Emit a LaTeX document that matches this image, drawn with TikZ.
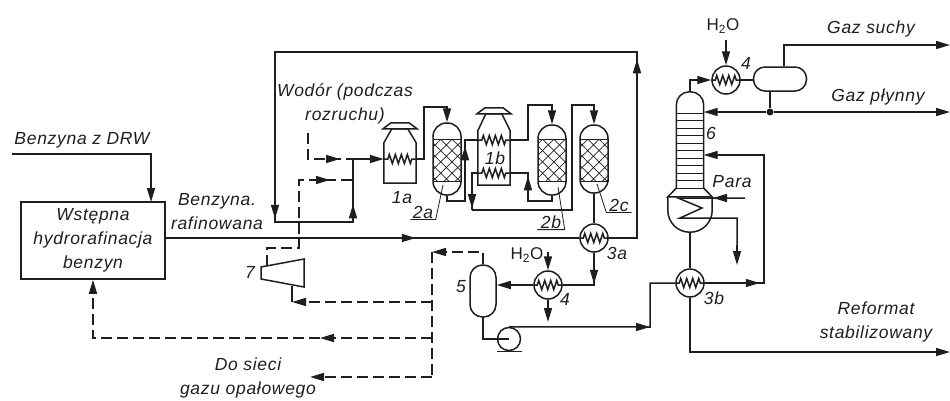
\documentclass[tikz,border=0pt]{standalone}
\usepackage{fontspec}
\setmainfont{Liberation Sans}
\newfontfamily\lettering[LetterSpace=4]{Liberation Sans}
\usetikzlibrary{arrows.meta,calc,decorations.markings,decorations.pathmorphing,patterns.meta}
\definecolor{ink}{RGB}{30,30,30}
\tikzset{
  pipe/.style  ={draw=ink, line width=1.5pt},
  ar/.style    ={pipe, -{Triangle[length=14pt,width=8pt]}},
  gas/.style   ={pipe, dash pattern=on 11pt off 5pt},
  gasar/.style ={gas, -{Triangle[length=14pt,width=8pt]}},
  tip at/.style={postaction={decorate,decoration={markings,
                 mark=at position #1 with {\arrow{Triangle[length=14pt,width=8pt]}}}}},
  vessel/.style={rectangle, draw=ink, line width=1.5pt, inner sep=0pt},
  hx/.style    ={circle, draw=ink, line width=1.5pt, inner sep=0pt, minimum size=28pt},
  coilbox/.style={inner sep=0pt, minimum height=0pt, minimum width=32pt},
  coil/.style  ={draw=ink, line width=1.5pt, decorate,
                 decoration={zigzag,segment length=6pt,amplitude=4.5pt,pre length=4pt,post length=4pt}},
  hatch/.style ={rectangle, inner sep=0pt, draw=ink, line width=.8pt, minimum width=28pt, minimum height=42pt,
                 pattern={Lines[angle=45,distance=8pt,line width=.7pt,yshift=1pt]}, pattern color=ink,
                 postaction={pattern={Lines[angle=-45,distance=8pt,line width=.7pt]}, pattern color=ink}},
  txt/.style   ={font=\lettering\itshape\fontsize{17.5}{24}\selectfont, text=ink, inner sep=1pt, align=center},
  wat/.style   ={font=\fontsize{17}{24}\selectfont, text=ink, inner sep=1pt},
  lead/.style  ={draw=ink, line width=.8pt},
  dot/.style   ={circle, fill=ink, inner sep=0pt, minimum size=7pt}
}
\newcommand{\furnace}[2]{%
  \draw[pipe] (#1.south west) -- (#1.north west) -- ++(8,-#2) -- ++(16,0) -- (#1.north east)
    -- (#1.south east) -- cycle;
  \draw[pipe] ([shift={(-17,-#2)}]#1.north) -- ++(8,-6) -- ++(18,0) -- ++(8,6) -- cycle;}
\begin{document}
\begin{tikzpicture}[x=1pt,y=-1pt]
\useasboundingbox (0,0) rectangle (950,400);
\node[vessel, minimum width=144pt, minimum height=77pt, txt] (pre) at (93,240.5) {Wstępna\\hydrorafinacja\\benzyn};
\node[inner sep=0pt, minimum width=32pt, minimum height=40pt] (f1a) at (400,163) {};
\node[inner sep=0pt, minimum width=32pt, minimum height=54pt] (f1b) at (494,158) {};
\node[vessel, hatch] (h2a) at (447,160) {};
\node[vessel, hatch] (h2b) at (552,160) {};
\node[vessel, hatch] (h2c) at (594,160) {};
\node[vessel, rounded corners=13.5pt, minimum width=28pt, minimum height=72pt] (r2a) at (447,159) {};
\node[vessel, rounded corners=13.5pt, minimum width=28pt, minimum height=70pt] (r2b) at (552,160) {};
\node[vessel, rounded corners=13.5pt, minimum width=28pt, minimum height=68pt] (r2c) at (594,159) {};
\node[coilbox] (c1a) at (400,159) {};
\node[coilbox] (c1bu) at (494,140) {};
\node[coilbox] (c1bl) at (494,173) {};
\node[hx] (hx3a) at (594,238) {};
\node[hx] (hx3b) at (690,283) {};
\node[hx] (hx4a) at (726,80) {};
\node[hx] (hx4b) at (548,285) {};
\node[vessel, rounded corners=12.5pt, minimum width=26pt, minimum height=52pt] (v5) at (483,291) {};
\node[vessel, rounded corners=11.5pt, minimum width=53pt, minimum height=24pt] (drum) at (780,79) {};
\node[circle, draw=ink, line width=1.5pt, inner sep=0pt, minimum size=23pt] (pump) at (509,339) {};
\node[inner sep=0pt, minimum width=27pt, minimum height=96pt] (col) at (690,140) {};
\node[inner sep=0pt, minimum width=44pt, minimum height=35pt] (reb) at (690,214.5) {};
\node[dot] (tee) at (770,112) {};
\furnace{f1a}{14}
\furnace{f1b}{17}
\foreach \c in {hx3a,hx3b,hx4a,hx4b,c1a,c1bu,c1bl}
  \draw[coil] (\c.west) -- (\c.east);
\draw[pipe, rounded corners=13pt] (col.south west) -- (col.north west) -- (col.north east) -- (col.south east);
\foreach \y in {113,120.5,...,188}
  \draw[pipe, line width=.8pt] (col.west |- 0,\y) -- (col.east |- 0,\y);
\draw[pipe] (col.south west) -- (reb.north west) -- (reb.north east) -- (col.south east);
\draw[pipe, rounded corners=21.9pt] (reb.north west) -- (reb.south west) -- (reb.south east) -- (reb.north east);
\draw[pipe] (261,267) -- (304,259) -- (304,287) -- (261,279) -- cycle;
\draw[pipe] ([xshift=-12pt]pump.south) -- ([xshift=13pt]pump.south);
\coordinate (feed) at (12,154);
\coordinate (prein) at (151,202);
\coordinate (mix) at (353,159);
\coordinate (a1) at (424,107);
\coordinate (a2) at (465,201);
\coordinate (a3) at (528,105);
\coordinate (a4) at (528,201);
\coordinate (a5) at (472,210);
\coordinate (a6) at (572,105);
\coordinate (a7) at (650,327);
\coordinate (a8) at (764,283);
\coordinate (rc1) at (637,238);
\coordinate (rc2) at (637,52);
\coordinate (rc3) at (275,52);
\coordinate (rc4) at (275,222);
\coordinate (rc5) at (353,222);
\coordinate (h2in) at (308,133);
\coordinate (t1) at (267,266);
\coordinate (t2) at (299,248);
\coordinate (t3) at (299,180);
\coordinate (t4) at (292,286);
\coordinate (t5) at (292,302);
\coordinate (g2) at (432,252);
\coordinate (g3) at (432,302);
\coordinate (g4) at (432,338);
\coordinate (g5) at (432,377);
\coordinate (g6) at (310,377);
\coordinate (g7) at (93,338);
\coordinate (wat1) at (726,40);
\coordinate (wat2) at (548,252);
\coordinate (wat3) at (548,322);
\coordinate (para) at (745,198);
\coordinate (cond) at (737,265);
\coordinate (out1) at (950,45);
\coordinate (out2) at (950,112);
\coordinate (out3) at (950,352);
\draw[ar] (feed) -| (prein);
\draw[pipe, tip at=250pt] (pre.east |- hx3a.west) -- (hx3a.west);
\draw[pipe, tip at=207pt, tip at=743pt, tip at=842pt] (hx3a.east) -- (rc1) -- (rc2) -- (rc3) -- (rc4) -- (rc5) -- (mix);
\draw[ar] (mix) -- (c1a.west);
\draw[gas, tip at=58pt] (h2in) |- (mix);
\draw[gas, tip at=149pt] (t1) -- (t1 |- t2) -- (t2) -- (t3) -- (t3 -| mix);
\draw[pipe] (t4) -- (t5);
\draw[gasar] (g3) -- (t5);
\draw[gasar] (v5.north) |- (g2);
\draw[gas] (g2) -- (g5);
\draw[gasar] (g5) -- (g6);
\draw[gasar, tip at=112pt] (g4) -- (g7) -- (pre.south -| g7);
\draw[ar] (c1a.east) -| (a1) -| (r2a.north);
\draw[pipe, tip at=78pt] (r2a.south) |- (a2) |- (c1bu.west);
\draw[ar] (c1bu.east) -| (a3) -| (r2b.north);
\draw[pipe, tip at=54pt] (r2b.south) |- (a4) |- (c1bl.east);
\draw[pipe, tip at=41pt] (c1bl.west) -| (a5);
\draw[ar] (a5) -| (a6) -| (r2c.north);
\draw[pipe] (r2c.south) -- (hx3a.north);
\draw[pipe, tip at=31pt] (hx3a.south) |- (hx4b.east);
\draw[ar] (hx4b.west) -- (hx4b.west -| v5.east);
\draw[ar] (wat2) -- (hx4b.north);
\draw[ar] (hx4b.south) -- (wat3);
\draw[pipe] (v5.south) |- (pump.center);
\draw[pipe, tip at=141pt] (pump.north) -- (a7) |- (hx3b.west);
\draw[pipe] (reb.south) -- (hx3b.north);
\draw[ar, tip at=55pt] (hx3b.east) -- (a8) |- (col.east |- 0,155);
\draw[ar] (hx3b.south) |- (out3);
\draw[ar] (col.north) |- (hx4a.west);
\draw[ar] (wat1) -- (hx4a.north);
\draw[pipe] (hx4a.east) -- (hx4a.east -| drum.west);
\draw[ar] ([xshift=4pt]drum.north) |- (out1);
\draw[pipe] ([xshift=-10pt]drum.south) -- (tee);
\draw[ar] (tee) -- (tee -| col.east);
\draw[ar] (tee) -- (out2);
\draw[pipe, tip at=32pt] (para) -- (678,198) -- (702,208) -- (680,218) -- (737,218) -- (737,250);
\draw[ar] (737,245) -- (cond);
\node[txt] (tdrw) at (82,140) {Benzyna z DRW};
\node[txt] (tben) at (217,212) {Benzyna.\\rafinowana};
\node[txt] (twod) at (345,104) {Wodór (podczas\\rozruchu)};
\node[txt] (tsiec) at (248,378) {Do sieci\\gazu opałowego};
\node[txt] (tref) at (876,322) {Reformat\\stabilizowany};
\node[txt] (tsuchy) at (871,29) {Gaz suchy};
\node[txt] (tplyn) at (878,97) {Gaz płynny};
\node[txt] (tpara) at (732,182) {Para};
\node[wat] (th2a) at (723,26) {H\textsubscript{2}O};
\node[wat] (th2b) at (527,255) {H\textsubscript{2}O};
\node[txt] (n7) at (250,272) {7};
\node[txt] (n1a) at (402,198) {1a};
\node[txt] (n1b) at (495,158) {1b};
\node[txt] (n3a) at (617,253) {3a};
\node[txt] (n3b) at (714,298) {3b};
\node[txt] (n4a) at (746,63) {4};
\node[txt] (n4b) at (565,299) {4};
\node[txt] (n5) at (461,287) {5};
\node[txt] (n6) at (711,133) {6};
\node[txt, minimum width=25pt] (n2a) at (423,212) {2a};
\node[txt, minimum width=27pt] (n2b) at (551,222) {2b};
\node[txt, minimum width=25pt] (n2c) at (619,205) {2c};
\draw[lead] (n2a.south west) -- (n2a.south east) -- (443,185);
\draw[lead] (n2b.south west) -- (n2b.south east) -- (558,187);
\draw[lead] (n2c.south east) -- (n2c.south west) -- (597,184);
\end{tikzpicture}
\end{document}
